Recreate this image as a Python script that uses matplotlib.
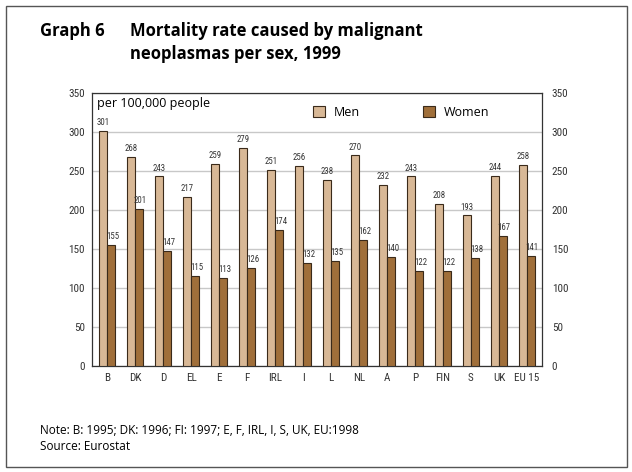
import matplotlib.pyplot as plt
import numpy as np
from matplotlib.patches import Rectangle

# ---- data ----
COUNTRIES = ["B", "DK", "D", "EL", "E", "F", "IRL", "I", "L", "NL",
             "A", "P", "FIN", "S", "UK", "EU 15"]
MEN = [301, 268, 243, 217, 259, 279, 251, 256, 238, 270,
       232, 243, 208, 193, 244, 258]
WOMEN = [155, 201, 147, 115, 113, 126, 174, 132, 135, 162,
         140, 122, 122, 138, 167, 141]
Y_TICKS = [0, 50, 100, 150, 200, 250, 300, 350]

MEN_COLOR = "#D8B896"
WOMEN_COLOR = "#A06F3A"
EDGE = "#3a2a1a"

plt.rcParams["font.family"] = ["Open Sans", "DejaVu Sans"]
NARROW = ["Liberation Sans Narrow", "Roboto Condensed", "DejaVu Sans"]

fig = plt.figure(figsize=(6.32, 4.72), dpi=100)
W, H = 632, 472

# outer frame
fig.patches.append(Rectangle((6 / W, 5 / H), 621 / W, 461 / H,
                             transform=fig.transFigure, fill=False,
                             edgecolor="#555555", linewidth=1.0))

ax = fig.add_axes([92 / W, 1 - 366 / H, 450 / W, 273 / H])
x = np.arange(len(COUNTRIES))
bw = 0.29
ax.bar(x - bw / 2, MEN, width=bw, color=MEN_COLOR, edgecolor=EDGE,
       linewidth=0.8, zorder=3, label="Men")
ax.bar(x + bw / 2, WOMEN, width=bw, color=WOMEN_COLOR, edgecolor=EDGE,
       linewidth=0.8, zorder=3, label="Women")

for i in range(len(COUNTRIES)):
    ax.text(x[i] - bw / 2, MEN[i] + 5, str(MEN[i]), ha="center", va="bottom",
            fontsize=6.3, family=NARROW, color="#333333")
    ax.text(x[i] + bw / 2 + 0.05, WOMEN[i] + 5, str(WOMEN[i]), ha="center",
            va="bottom", fontsize=6.3, family=NARROW, color="#333333")

ax.set_xlim(-0.54, len(COUNTRIES) - 0.46)
ax.set_ylim(0, 350)
ax.set_yticks(Y_TICKS)
ax.set_xticks(x)
ax.set_xticklabels(COUNTRIES, family=NARROW, fontsize=8)
for lab in ax.get_yticklabels():
    lab.set_family(NARROW)
    lab.set_fontsize(8)
ax.tick_params(axis="both", length=0, pad=5, colors="#333333")
ax.tick_params(axis="x", pad=5)
ax.yaxis.grid(True, color="#c8c8c8", linewidth=1.0, zorder=0)
ax.set_axisbelow(True)
for s in ax.spines.values():
    s.set_color("#333333")
    s.set_linewidth(0.9)

ax2 = ax.twinx()
ax2.set_ylim(0, 350)
ax2.set_yticks(Y_TICKS)
for lab in ax2.get_yticklabels():
    lab.set_family(NARROW)
    lab.set_fontsize(8)
ax2.tick_params(axis="y", length=0, pad=7, colors="#333333")
for s in ax2.spines.values():
    s.set_visible(False)

ax.text(0.012, 0.985, "per 100,000 people", transform=ax.transAxes,
        ha="left", va="top", fontsize=9)
ax.legend(loc="center left", bbox_to_anchor=(0.491, 0.93), ncol=2,
          frameon=False, fontsize=9, handlelength=1.0, handleheight=1.0,
          columnspacing=5.0, handletextpad=0.7, borderpad=0, borderaxespad=0)

fig.text(40 / W, 1 - 31 / H, "Graph 6", fontsize=12, fontweight="bold",
         va="center", ha="left")
fig.text(130 / W, 1 - 31 / H, "Mortality rate caused by malignant",
         fontsize=12, fontweight="bold", va="center", ha="left")
fig.text(130 / W, 1 - 54 / H, "neoplasmas per sex, 1999",
         fontsize=12, fontweight="bold", va="center", ha="left")

fig.text(40 / W, 1 - 430 / H, "Note: B: 1995; DK: 1996; FI: 1997; E, F, IRL, I, S, UK, EU:1998",
         fontsize=8.5, va="center", ha="left")
fig.text(40 / W, 1 - 446 / H, "Source: Eurostat",
         fontsize=8.5, va="center", ha="left")

fig.savefig("out.png", dpi=100)
